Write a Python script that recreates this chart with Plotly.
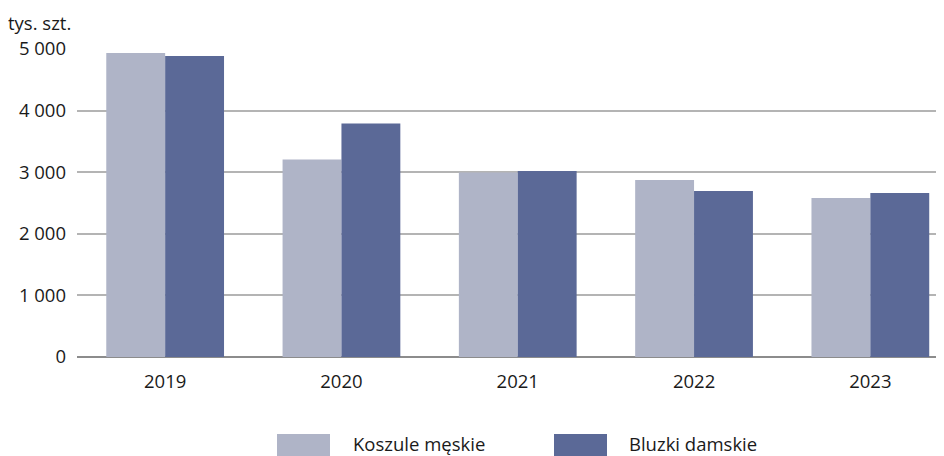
import plotly.graph_objects as go

years = ["2019", "2020", "2021", "2022", "2023"]
koszule = [4935, 3205, 2995, 2875, 2580]
bluzki = [4885, 3790, 3020, 2695, 2662]
series_names = ["Koszule męskie", "Bluzki damskie"]
colors = ["#AFB4C7", "#5B6997"]
y_ticks = [0, 1000, 2000, 3000, 4000, 5000]
y_tick_labels = ["0", "1 000", "2 000", "3 000", "4 000", "5 000"]

# page has an 8px body margin; figure coordinates are page coordinates minus OFF
OFF = 8
W, H = 944 - OFF, 456 - OFF
L, R, T = 77 - OFF, 0, 49 - OFF
PLOT_BOTTOM = 357 - OFF
B = H - PLOT_BOTTOM
FONT = "Open Sans"
FS = 18.5

fig = go.Figure()
for name, vals, col in zip(series_names, [koszule, bluzki], colors):
    fig.add_trace(go.Bar(x=years, y=vals, name=name, marker=dict(color=col, line=dict(width=0)),
                         showlegend=False))

plot_w = W - L - R
plot_h = H - T - B
cat_px = 176.3


def px_x(px):
    return (px - OFF - L) / plot_w


def px_y(py):
    return (PLOT_BOTTOM - (py - OFF)) / plot_h


# manual legend
legend_items = [(277, 351, 0), (554, 627, 1)]
for sx, tx, i in legend_items:
    fig.add_shape(type="rect", xref="paper", yref="paper",
                  x0=px_x(sx), x1=px_x(sx + 53), y0=px_y(434), y1=px_y(460),
                  fillcolor=colors[i], line=dict(width=0), layer="above")
    fig.add_annotation(xref="paper", yref="paper", x=px_x(tx), y=px_y(443.5),
                       text=series_names[i], showarrow=False, xanchor="left", yanchor="middle",
                       font=dict(family=FONT, size=FS, color="#1a1a1a"))

fig.add_annotation(xref="paper", yref="paper", x=px_x(6), y=px_y(22),
                   text="tys. szt.", showarrow=False, xanchor="left", yanchor="middle",
                   font=dict(family=FONT, size=FS, color="#1a1a1a"))

fig.update_layout(
    width=W, height=H,
    margin=dict(l=L, r=R, t=T, b=B, pad=0),
    paper_bgcolor="white", plot_bgcolor="white",
    barmode="group", bargap=0.332, bargroupgap=0,
    font=dict(family=FONT, size=FS, color="#1a1a1a"),
    xaxis=dict(type="category", range=[-0.5, -0.5 + plot_w / cat_px], showgrid=False,
               showline=False, ticks="", ticklabelstandoff=11, tickfont=dict(size=FS)),
    yaxis=dict(range=[0, 5000], tickvals=y_ticks, ticktext=y_tick_labels, showgrid=True,
               gridcolor="#B4B4B4", gridwidth=1.5, zeroline=True, zerolinecolor="#8C8C8C",
               zerolinewidth=1.5, showline=False, ticks="", ticklabelstandoff=10,
               tickfont=dict(size=FS)),
)

fig.write_html("out.html")
